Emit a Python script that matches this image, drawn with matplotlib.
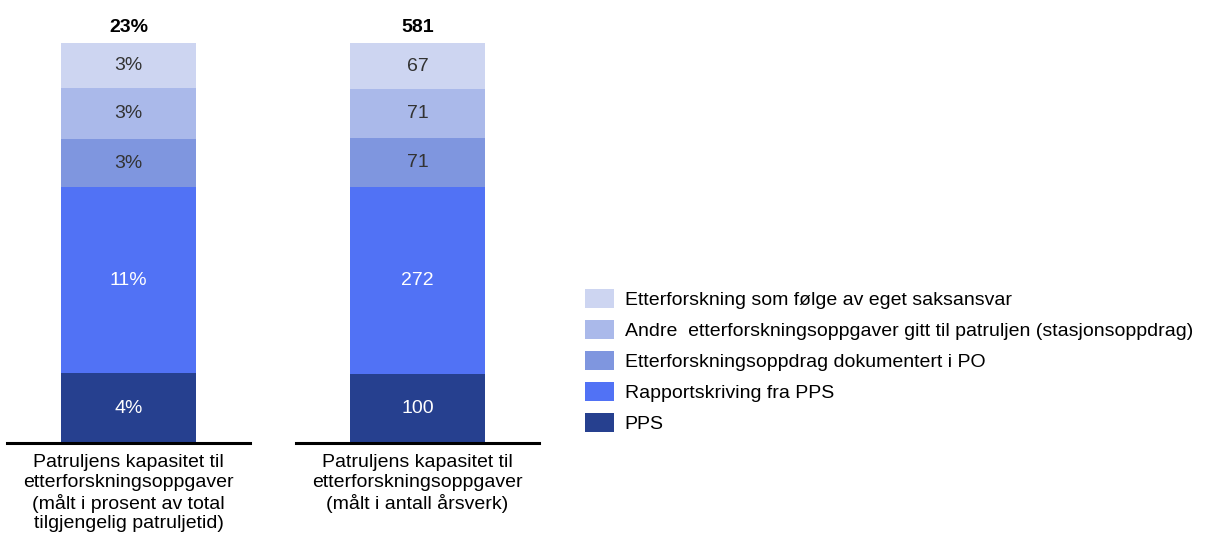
import numpy as np
import matplotlib.pyplot as plt
from matplotlib.patches import Patch

plt.rcParams['font.family'] = ['Liberation Sans', 'DejaVu Sans']

# segments from bottom to top
series = ['PPS', 'Rapportskriving fra PPS', 'Etterforskningsoppdrag dokumentert i PO',
          'Andre  etterforskningsoppgaver gitt til patruljen (stasjonsoppdrag)',
          'Etterforskning som følge av eget saksansvar']
colors = ['#26408f', '#5172f5', '#7f96df', '#aab9ea', '#cdd5f1']
text_colors = ['white', 'white', '#333333', '#333333', '#333333']

pct_values = [4.0, 10.7, 2.8, 2.9, 2.6]
pct_labels = ['4%', '11%', '3%', '3%', '3%']
pct_total = '23%'

fte_values = [100, 272, 71, 71, 67]
fte_labels = ['100', '272', '71', '71', '67']
fte_total = '581'

categories = ['Patruljens kapasitet til\netterforskningsoppgaver\n(målt i prosent av total\ntilgjengelig patruljetid)',
              'Patruljens kapasitet til\netterforskningsoppgaver\n(målt i antall årsverk)']

W, H = 1231, 540
FS = 14
fig = plt.figure(figsize=(W / 100, H / 100), dpi=100)

def stacked(left_px, vals, labs, total_lab, cat):
    ax = fig.add_axes([left_px / W, (H - 443) / H, 243 / W, 400 / H])
    bottom = 0
    for v, lab, c, tc in zip(vals, labs, colors, text_colors):
        ax.bar(0, v, bottom=bottom, width=1.11, color=c, linewidth=0)
        ax.text(0, bottom + v / 2, lab, ha='center', va='center', fontsize=FS, color=tc)
        bottom += v
    ax.set_xlim(-1, 1)
    ax.set_ylim(0, bottom)
    ax.annotate(total_lab, (0, bottom), xytext=(0, 7), textcoords='offset pixels',
                ha='center', va='bottom', fontsize=FS, fontweight='bold')
    for s in ['top', 'left', 'right']:
        ax.spines[s].set_visible(False)
    ax.spines['bottom'].set_linewidth(2.2)
    ax.set_yticks([])
    ax.set_xticks([0])
    ax.set_xticklabels([cat], fontsize=FS, linespacing=1.2)
    ax.tick_params(axis='x', length=0, pad=8)

stacked(7, pct_values, pct_labels, pct_total, categories[0])
stacked(296, fte_values, fte_labels, fte_total, categories[1])

handles = [Patch(facecolor=c, edgecolor='none') for c in colors][::-1]
fig.legend(handles, series[::-1], loc='center left', bbox_to_anchor=(585 / W, 1 - 361 / H),
           frameon=False, fontsize=FS, handlelength=1.5, handleheight=1.13,
           labelspacing=0.56, handletextpad=0.55, borderaxespad=0, borderpad=0)

fig.savefig('out.png', dpi=100)
